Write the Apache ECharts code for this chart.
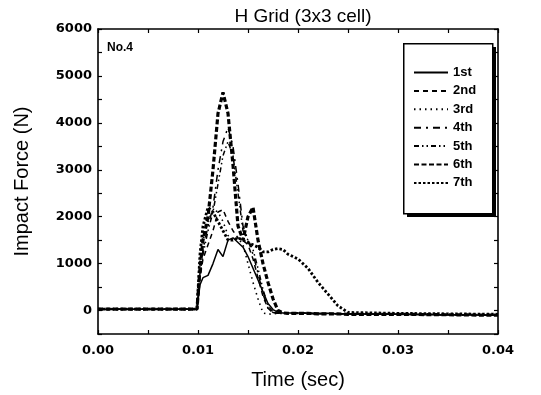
<!DOCTYPE html>
<html>
<head>
<meta charset="utf-8">
<script src="https://cdn.jsdelivr.net/npm/echarts@6/dist/echarts.min.js"></script>
<style>
html,body{margin:0;padding:0;background:#fff;}
#chart{width:541px;height:395px;}
</style>
</head>
<body>
<div id="chart"></div>
<script>
var times = [0, 0.0099, 0.0102, 0.0105, 0.011, 0.0115, 0.012, 0.0125, 0.013, 0.0135, 0.014, 0.0145, 0.015, 0.0155, 0.016, 0.0165, 0.017, 0.0175, 0.018, 0.0185, 0.019, 0.02, 0.021, 0.022, 0.023, 0.024, 0.025, 0.03, 0.04];
var seriesNames = ['1st', '2nd', '3rd', '4th', '5th', '6th', '7th'];
var s1st = [30, 30, 550, 700, 750, 1000, 1300, 1150, 1500, 1550, 1450, 1350, 1150, 900, 650, 400, 150, 20, -40, -50, -50, -50, -60, -60, -60, -70, -70, -80, -100];
var s2nd = [30, 30, 700, 1100, 1400, 1700, 2100, 2150, 1900, 1700, 1550, 1500, 1400, 1100, 700, 300, 50, -50, -60, -60, -60, -60, -60, -70, -70, -70, -80, -80, -100];
var s3rd = [30, 30, 900, 1500, 1900, 2150, 2100, 1900, 1600, 1500, 1550, 1400, 1000, 600, 250, -50, -80, -70, -60, -60, -60, -60, -60, -70, -70, -70, -80, -80, -100];
var s4th = [30, 30, 800, 1300, 1800, 2200, 3000, 3600, 3900, 3500, 2700, 1800, 1500, 1200, 800, 350, 50, -40, -60, -60, -60, -60, -60, -70, -70, -70, -80, -80, -100];
var s5th = [30, 30, 700, 1200, 1700, 2100, 2700, 3300, 3600, 3300, 2500, 1700, 1500, 1300, 900, 450, 100, -30, -60, -60, -60, -60, -60, -70, -70, -70, -80, -80, -100];
var s6th = [30, 30, 900, 1500, 2000, 3000, 4200, 4650, 4200, 3100, 1800, 1500, 2000, 2200, 1500, 1000, 600, 250, 0, -50, -60, -60, -60, -70, -70, -70, -80, -80, -100];
var s7th = [30, 30, 1200, 1800, 2200, 2100, 1900, 1700, 1500, 1500, 1550, 1500, 1450, 1400, 1350, 1250, 1250, 1300, 1320, 1300, 1200, 1100, 900, 600, 350, 100, -40, -60, -80];
var xTickLabels = ['0.00', '0.01', '0.02', '0.03', '0.04'];
var yTickLabels = ['0', '1000', '2000', '3000', '4000', '5000', '6000'];

var allValues = [s1st, s2nd, s3rd, s4th, s5th, s6th, s7th];
var styles = [
  {width: 1.5, type: 'solid'},
  {width: 1.5, type: [5, 4]},
  {width: 1.6, type: [1.5, 4]},
  {width: 1.5, type: [7, 5, 2, 5]},
  {width: 1.5, type: [5, 3, 1.5, 3, 1.5, 3]},
  {width: 3.2, type: [5, 2.5]},
  {width: 2.8, type: [2.5, 2]}
];
var FONT = "'Liberation Sans', Arial, sans-serif";
var TICKFONT = "'DejaVu Sans', sans-serif";

function pairs(vals) {
  return times.map(function (t, i) { return [t, vals[i]]; });
}

var series = seriesNames.map(function (n, i) {
  return {
    name: n,
    type: 'line',
    xAxisIndex: 0,
    yAxisIndex: 0,
    symbol: 'none',
    smooth: false,
    color: '#000',
    lineStyle: {color: '#000', width: styles[i].width, type: styles[i].type},
    data: pairs(allValues[i])
  };
});

function isMajorX(v) { return Math.round(v * 1000) % 10 === 0; }
function xLabel(v) {
  if (!isMajorX(v)) return '';
  var idx = Math.round(v * 100);
  return xTickLabels[idx] !== undefined ? xTickLabels[idx] : '';
}
function yLabel(v) {
  if (v < 0 || Math.round(v) % 1000 !== 0) return '';
  var idx = Math.round(v / 1000);
  return yTickLabels[idx] !== undefined ? yTickLabels[idx] : '';
}

var baseX = {
  type: 'value', min: 0, max: 0.04, interval: 0.005,
  axisLine: {show: true, onZero: false, lineStyle: {color: '#000', width: 1.6}},
  axisTick: {show: true, inside: true, length: 4, lineStyle: {color: '#000', width: 1.2}},
  splitLine: {show: false}
};
var baseY = {
  type: 'value', min: -500, max: 6000, interval: 500,
  axisLine: {show: true, onZero: false, lineStyle: {color: '#000', width: 1.6}},
  axisTick: {show: true, inside: true, length: 4, lineStyle: {color: '#000', width: 1.2}},
  splitLine: {show: false}
};

var option = {
  backgroundColor: '#fff',
  animation: false,
  title: {
    text: 'H Grid (3x3 cell)',
    left: 298, top: 2, textAlign: 'center',
    textStyle: {fontFamily: FONT, fontSize: 19, fontWeight: 'normal', color: '#000'}
  },
  grid: {left: 98, right: 43, top: 29, bottom: 59},
  legend: {
    orient: 'vertical',
    left: 403, top: 46,
    data: seriesNames,
    itemWidth: 34, itemHeight: 14, itemGap: 5.4,
    padding: [20, 18, 23, 10],
    itemStyle: {opacity: 0},
    textStyle: {fontFamily: FONT, fontSize: 13, fontWeight: 'bold', color: '#000'},
    selectedMode: false
  },
  xAxis: [
    Object.assign({}, baseX, {
      position: 'bottom',
      name: 'Time (sec)', nameLocation: 'middle', nameGap: 36,
      nameTextStyle: {fontFamily: FONT, fontSize: 20, color: '#000'},
      axisLabel: {show: true, formatter: xLabel, margin: 10, fontFamily: TICKFONT, fontSize: 13, fontWeight: 'bold', color: '#000', showMinLabel: true, showMaxLabel: true}
    }),
    Object.assign({}, baseX, {position: 'top', axisLabel: {show: false}})
  ],
  yAxis: [
    Object.assign({}, baseY, {
      position: 'left',
      name: 'Impact Force (N)', nameLocation: 'middle', nameGap: 66,
      nameTextStyle: {fontFamily: FONT, fontSize: 20, color: '#000'},
      axisLabel: {show: true, formatter: yLabel, margin: 6, fontFamily: TICKFONT, fontSize: 13, fontWeight: 'bold', color: '#000'}
    }),
    Object.assign({}, baseY, {position: 'right', axisLabel: {show: false}})
  ],
  graphic: [
    {type: 'rect', left: 407, top: 47, shape: {width: 89, height: 170}, style: {fill: '#000'}, z: 1},
    {type: 'rect', left: 403, top: 43, shape: {width: 89, height: 170}, style: {fill: '#fff', stroke: '#000', lineWidth: 1.5}, z: 2},
    {type: 'text', left: 107, top: 42, style: {text: 'No.4', fontFamily: FONT, fontSize: 12, fontWeight: 'bold', fill: '#000'}, z: 3}
  ],
  series: series
};

var chart = echarts.init(document.getElementById('chart'), null, {renderer: 'canvas'});
chart.setOption(option);
</script>
</body>
</html>
